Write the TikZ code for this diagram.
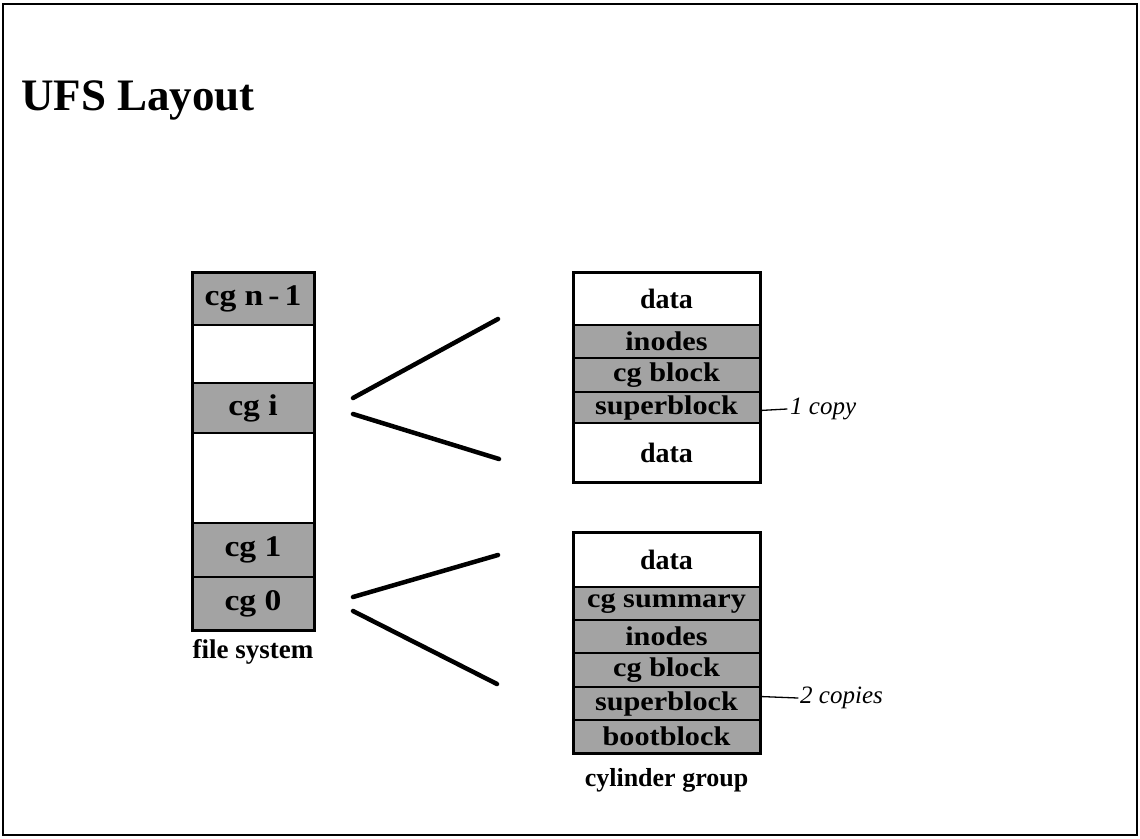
\documentclass[tikz,border=0pt]{standalone}
\usepackage{fontspec}
\setmainfont{Liberation Serif}
\newfontfamily\widefont[FakeStretch=1.12]{Liberation Serif}
\begin{document}
\begin{tikzpicture}[x=1pt,y=-1pt,
  cell/.style={draw, line width=2.6pt, inner sep=0pt, outer sep=0pt, align=center,
    font=\bfseries\fontsize{28}{28}\selectfont},
  shaded/.style={cell, fill=black!36, font=\widefont\bfseries\fontsize{27}{27}\selectfont},
  lshaded/.style={cell, fill=black!36, font=\widefont\bfseries\fontsize{30}{30}\selectfont},
  plain/.style={cell, fill=white},
  lcol/.style={minimum width=122pt},
  rcol/.style={minimum width=187pt},
  conn/.style={line width=4.5pt, line cap=round},
  note/.style={font=\itshape\fontsize{25}{25}\selectfont, inner sep=0pt},
  tick/.style={line width=1.3pt, line cap=round}]
\useasboundingbox (0,0) rectangle (1140,838);
\draw[line width=2.4pt] (3,4) rectangle (1137,835);
\node[anchor=base west, inner sep=0pt, font=\bfseries\fontsize{45}{45}\selectfont] (title) at (21,110) {UFS Layout};

% file system column
\node[lshaded, lcol, minimum height=53pt] (cgn) at (253,298.5) {cg n\,-\,1};
\node[plain, lcol, minimum height=58pt] (w1) at (253,354) {};
\node[lshaded, lcol, minimum height=50pt] (cgi) at (253,408) {cg i};
\node[plain, lcol, minimum height=90pt] (w2) at (253,478) {};
\node[lshaded, lcol, minimum height=54pt] (cg1) at (253,550) {cg 1};
\node[lshaded, lcol, minimum height=53pt] (cg0) at (253,603.5) {cg 0};
\draw[line width=3pt] (cgn.north west) rectangle (cg0.south east);
\node[anchor=base, inner sep=0pt, font=\bfseries\fontsize{27}{27}\selectfont] (fslabel) at (253,658) {file system};

% cylinder group i
\node[plain, rcol, minimum height=53pt] (td1) at (666.5,298.5) {data};
\node[shaded, rcol, minimum height=33pt] (tin) at (666.5,341.5) {inodes};
\node[shaded, rcol, minimum height=34pt] (tcg) at (666.5,375) {cg block};
\node[shaded, rcol, minimum height=31pt] (tsb) at (666.5,407.5) {superblock};
\node[plain, rcol, minimum height=59pt] (td2) at (666.5,452.5) {data};
\draw[line width=3pt] (td1.north west) rectangle (td2.south east);

% cylinder group 0
\node[plain, rcol, minimum height=55pt] (bd) at (666.5,559.5) {data};
\node[shaded, rcol, minimum height=33pt] (bsum) at (666.5,603.5) {cg summary};
\node[shaded, rcol, minimum height=33pt] (bin) at (666.5,636.5) {inodes};
\node[shaded, rcol, minimum height=34pt] (bcg) at (666.5,670) {cg block};
\node[shaded, rcol, minimum height=33pt] (bsb) at (666.5,703.5) {superblock};
\node[shaded, rcol, minimum height=33pt] (bbb) at (666.5,736.5) {bootblock};
\draw[line width=3pt] (bd.north west) rectangle (bbb.south east);
\node[anchor=base, inner sep=0pt, font=\bfseries\fontsize{26}{26}\selectfont] (cglabel) at (666.5,786) {cylinder group};

% connectors
\coordinate (a1) at (353,398);
\coordinate (a2) at (498,319);
\coordinate (a3) at (353,414);
\coordinate (a4) at (499,459);
\coordinate (b1) at (353,597);
\coordinate (b2) at (498,555);
\coordinate (b3) at (353,611);
\coordinate (b4) at (497,684);
\draw[conn] (a1) -- (a2);
\draw[conn] (a3) -- (a4);
\draw[conn] (b1) -- (b2);
\draw[conn] (b3) -- (b4);

% handwritten notes
\node[note, anchor=west] (n1) at (790,409) {1 copy};
\draw[tick] (tsb.east) ++(0,3) coordinate (t1) (t1) -- ([xshift=-3pt]n1.west);
\node[note, anchor=west] (n2) at (800,698) {2 copies};
\draw[tick] (bsb.east) ++(0,-7) coordinate (t2) (t2) -- ([xshift=-2pt]n2.west);
\end{tikzpicture}
\end{document}
